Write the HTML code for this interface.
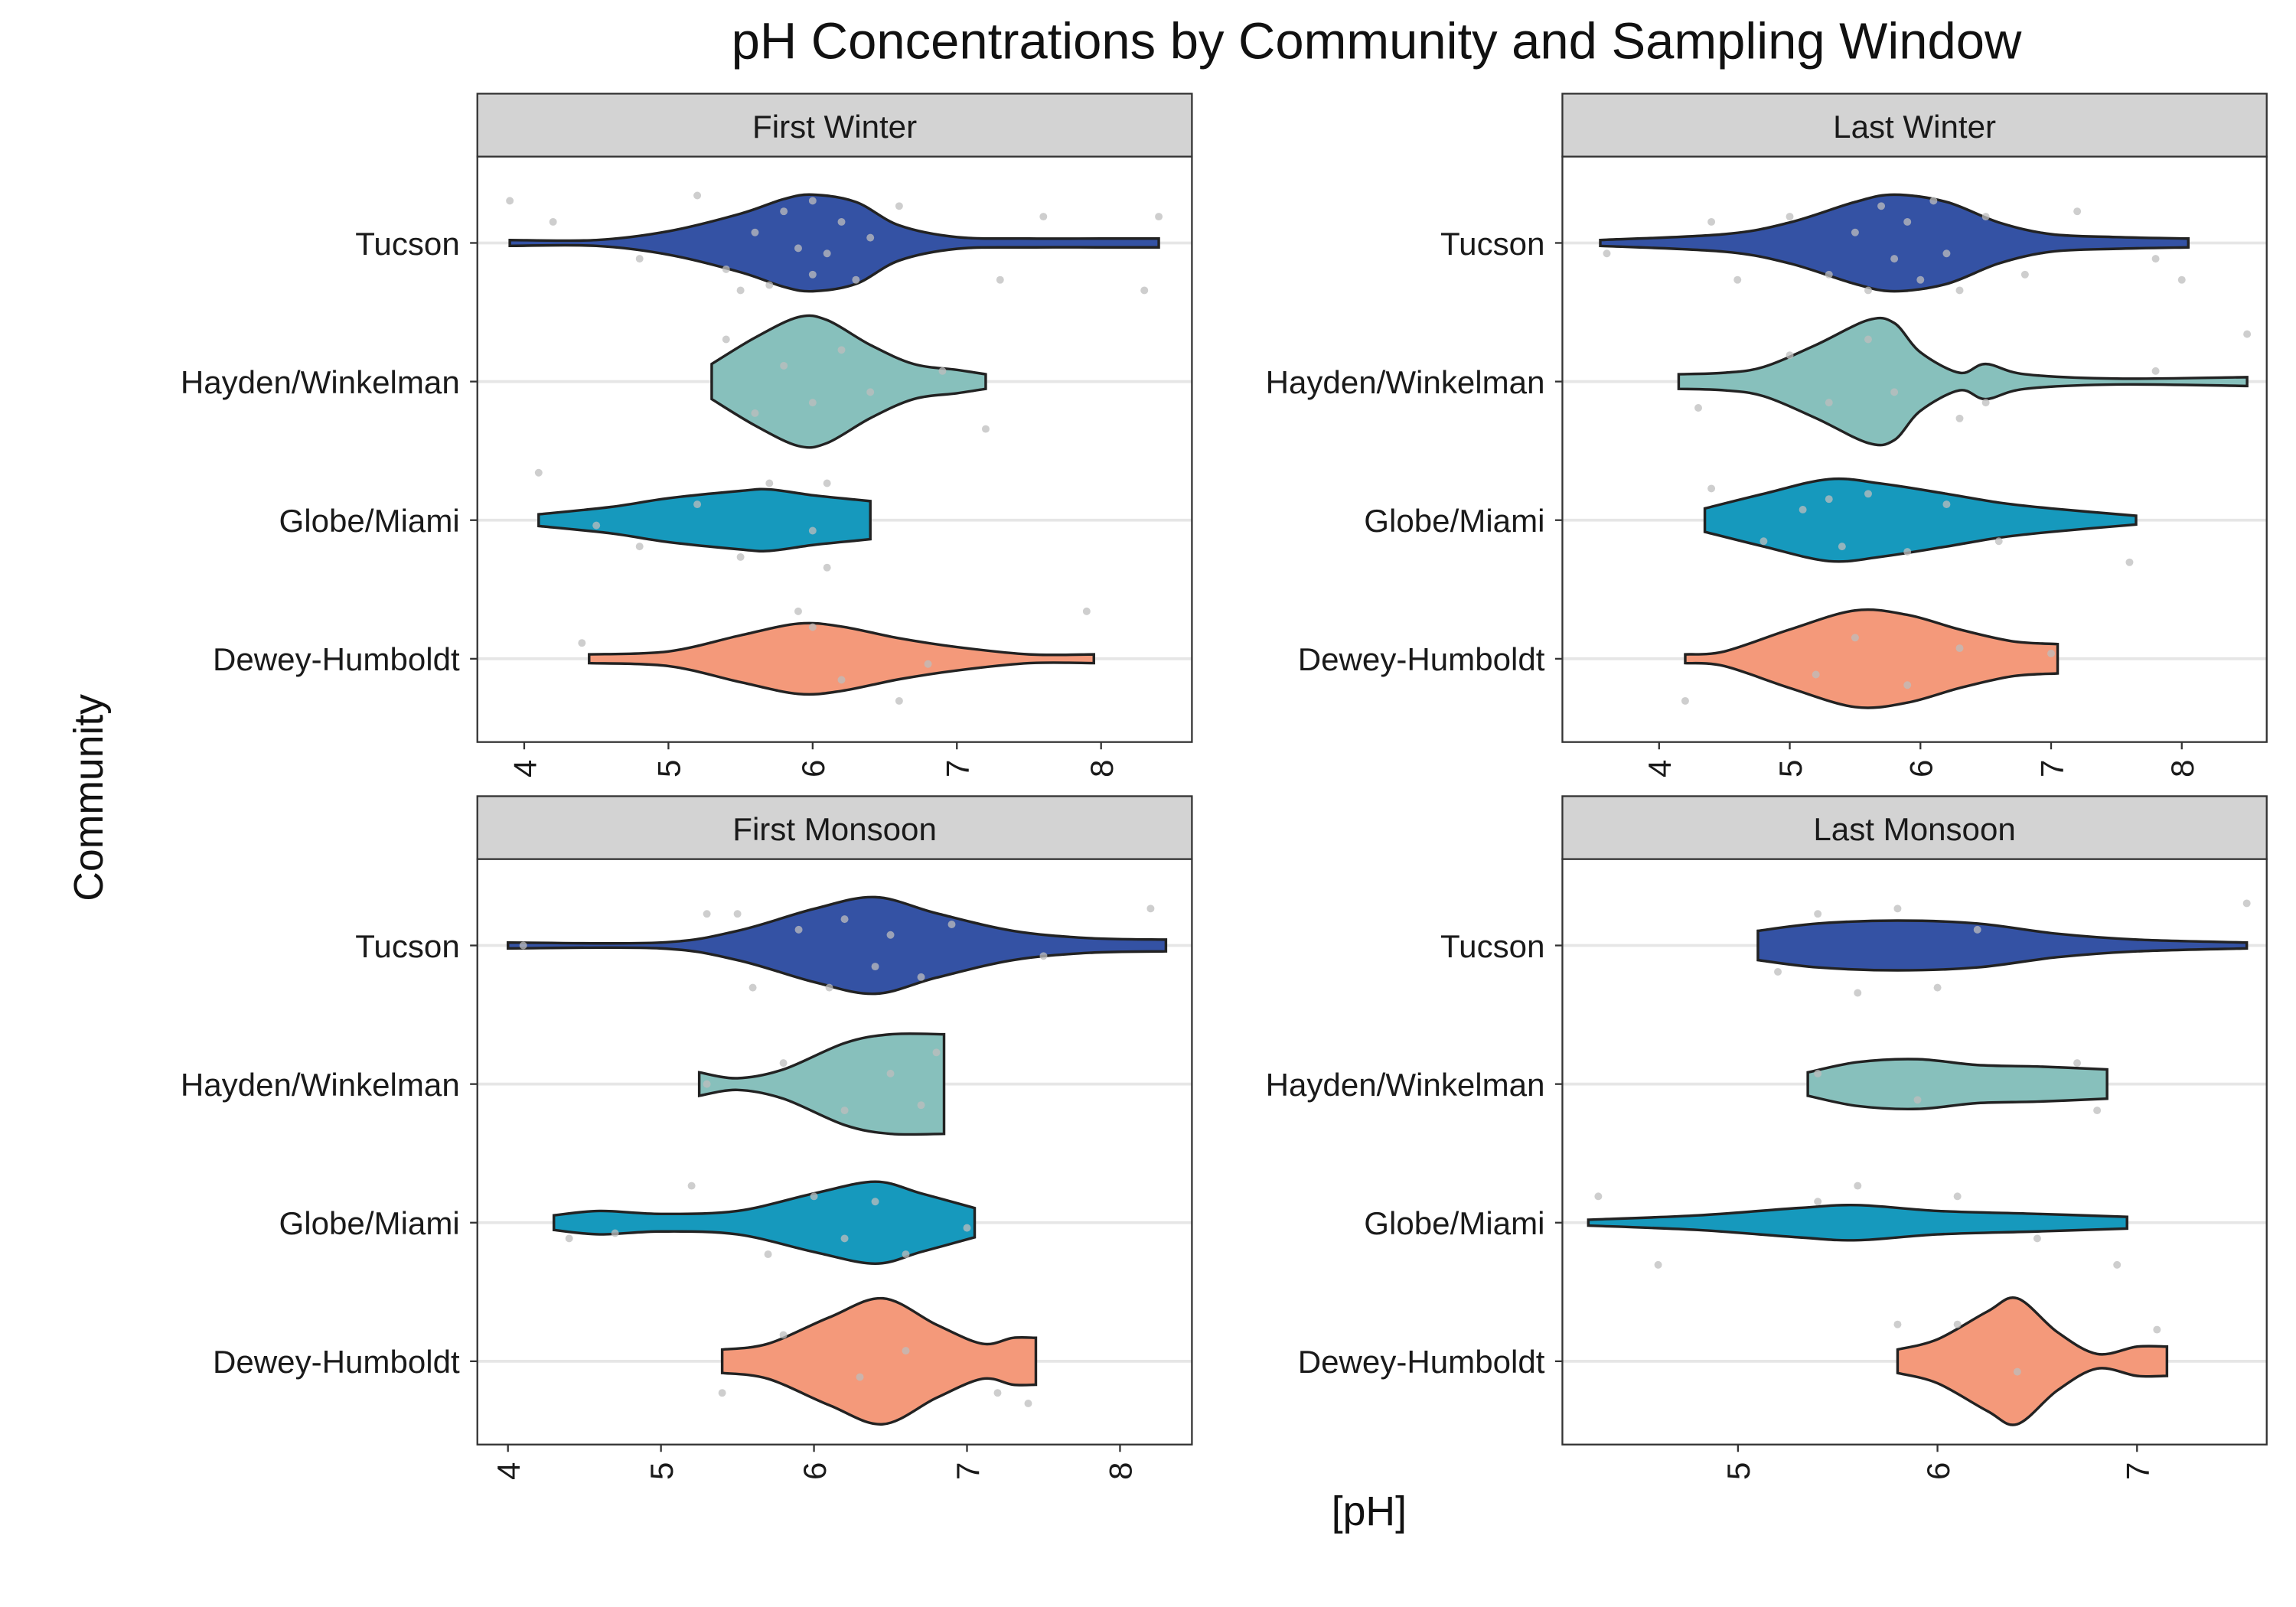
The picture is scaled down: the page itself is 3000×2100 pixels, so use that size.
<!DOCTYPE html>
<html><head><meta charset="utf-8"><style>
html,body{margin:0;padding:0;background:#fff;}
svg{display:block;font-family:"Liberation Sans",sans-serif;}
</style></head><body>
<svg id="chart" width="3000" height="2100" viewBox="0 0 1568 1098" preserveAspectRatio="none" xmlns="http://www.w3.org/2000/svg">
<rect width="1568" height="1098" fill="#fff"/>
<text x="940" y="40" text-anchor="middle" font-size="35" fill="#111">pH Concentrations by Community and Sampling Window</text>
<text transform="translate(70,545) rotate(-90)" text-anchor="middle" font-size="28" fill="#111">Community</text>
<text x="935" y="1042" text-anchor="middle" font-size="28" fill="#111">[pH]</text>
<g id="panels"></g>
</svg>
<script>
const panelTitles = ["First Winter","Last Winter","First Monsoon","Last Monsoon"];
const communities = ["Tucson","Hayden/Winkelman","Globe/Miami","Dewey-Humboldt"];
const colors = ["#3452a4","#87c0bc","#1699bd","#f4997a"];
const xTicks = [[4,5,6,7,8],[4,5,6,7,8],[4,5,6,7,8],[5,6,7]];
const xDomains = [[3.675,8.63],[3.26,8.65],[3.8,8.47],[4.12,7.65]];
// violin profiles: [pH, half-width in px-units]
const fwTucson=[[3.9,2],[4.5,2],[5.0,8],[5.5,20],[5.8,30],[6.0,33],[6.3,28],[6.6,12],[7.0,4],[7.5,3],[8.0,3],[8.4,3]];
const fwHayden=[[5.3,12],[5.6,30],[5.9,44],[6.1,42],[6.4,25],[6.7,12],[7.0,8],[7.2,5]];
const fwGlobe=[[4.1,4],[4.6,9],[5.0,15],[5.5,20],[5.7,21],[6.0,17],[6.3,14],[6.4,13]];
const fwDewey=[[4.45,3],[5.0,5],[5.5,16],[5.9,24],[6.2,22],[6.6,14],[7.0,8],[7.5,3],[7.95,3]];
const lwTucson=[[3.55,2],[4.5,6],[5.0,14],[5.5,28],[5.8,33],[6.2,28],[6.6,14],[7.0,6],[7.5,4],[8.05,3]];
const lwHayden=[[4.15,5],[4.5,6],[4.8,10],[5.2,25],[5.6,42],[5.8,40],[6.0,20],[6.3,6],[6.5,12],[6.8,5],[7.5,2],[8.5,3]];
const lwGlobe=[[4.35,8],[4.8,18],[5.3,28],[5.7,25],[6.2,18],[6.6,12],[7.0,8],[7.65,3]];
const lwDewey=[[4.2,3],[4.5,5],[5.0,20],[5.5,33],[5.9,30],[6.3,20],[6.7,12],[7.05,10]];
const fmTucson=[[4.0,2],[5.0,2],[5.5,10],[6.0,25],[6.4,33],[6.8,22],[7.3,10],[7.8,5],[8.3,4]];
const fmHayden=[[5.25,8],[5.5,4],[5.8,10],[6.2,28],[6.5,34],[6.85,34]];
const fmGlobe=[[4.3,5],[4.6,8],[5.0,6],[5.5,8],[6.0,20],[6.4,28],[6.7,20],[7.05,10]];
const fmDewey=[[5.4,8],[5.7,12],[6.1,30],[6.45,43],[6.8,25],[7.1,12],[7.3,16],[7.45,16]];
const lmTucson=[[5.1,10],[5.4,15],[5.8,17],[6.2,15],[6.6,8],[7.0,4],[7.55,2]];
const lmHayden=[[5.35,8],[5.6,15],[5.9,17],[6.2,13],[6.5,12],[6.85,10]];
const lmGlobe=[[4.25,2],[4.8,5],[5.3,10],[5.6,12],[6.0,8],[6.5,6],[6.95,4]];
const lmDewey=[[5.8,8],[6.0,15],[6.25,34],[6.4,43],[6.6,20],[6.8,5],[7.0,10],[7.15,10]];
const violins=[[fwTucson,fwHayden,fwGlobe,fwDewey],[lwTucson,lwHayden,lwGlobe,lwDewey],[fmTucson,fmHayden,fmGlobe,fmDewey],[lmTucson,lmHayden,lmGlobe,lmDewey]];
// jittered observations: [pH, vertical jitter -1..1]
const ptsFW=[[[4.2,-0.4],[4.8,0.3],[5.2,-0.9],[5.4,0.5],[5.6,-0.2],[5.7,0.8],[5.8,-0.6],[5.9,0.1],[6.0,-0.8],[6.0,0.6],[6.1,0.2],[6.2,-0.4],[6.3,0.7],[6.4,-0.1],[5.5,0.9],[6.6,-0.7],[7.3,0.7],[7.6,-0.5],[8.3,0.9],[8.4,-0.5],[3.9,-0.8]],
 [[5.4,-0.8],[5.6,0.6],[5.8,-0.3],[6.0,0.4],[6.2,-0.6],[6.4,0.2],[7.2,0.9],[6.9,-0.2]],
 [[4.1,-0.9],[4.5,0.1],[4.8,0.5],[5.2,-0.3],[5.5,0.7],[5.7,-0.7],[6.0,0.2],[6.1,-0.7],[6.1,0.9]],
 [[4.4,-0.3],[5.9,-0.9],[6.2,0.4],[6.6,0.8],[6.8,0.1],[7.9,-0.9],[6.0,-0.6]]];
const ptsLW=[[[3.6,0.2],[4.6,0.7],[5.0,-0.5],[5.3,0.6],[5.5,-0.2],[5.6,0.9],[5.7,-0.7],[5.8,0.3],[5.9,-0.4],[6.0,0.7],[6.1,-0.8],[6.2,0.2],[6.3,0.9],[6.5,-0.5],[6.8,0.6],[7.2,-0.6],[7.8,0.3],[8.0,0.7],[4.4,-0.4]],
 [[4.3,0.5],[5.0,-0.5],[5.3,0.4],[5.6,-0.8],[5.8,0.2],[6.3,0.7],[7.8,-0.2],[8.5,-0.9],[6.5,0.4]],
 [[4.4,-0.6],[4.8,0.4],[5.1,-0.2],[5.4,0.5],[5.6,-0.5],[5.9,0.6],[6.2,-0.3],[6.6,0.4],[7.6,0.8],[5.3,-0.4]],
 [[4.2,0.8],[5.2,0.3],[5.5,-0.4],[5.9,0.5],[6.3,-0.2],[7.0,-0.1]]];
const ptsFM=[[[4.1,0.0],[5.3,-0.6],[5.6,0.8],[5.9,-0.3],[6.1,0.8],[6.2,-0.5],[6.4,0.4],[6.5,-0.2],[6.7,0.6],[6.9,-0.4],[7.5,0.2],[8.2,-0.7],[5.5,-0.6]],
 [[5.3,0.0],[5.8,-0.4],[6.2,0.5],[6.5,-0.2],[6.7,0.4],[6.8,-0.6]],
 [[4.4,0.3],[4.7,0.2],[5.2,-0.7],[5.7,0.6],[6.0,-0.5],[6.2,0.3],[6.4,-0.4],[6.6,0.6],[7.0,0.1]],
 [[5.4,0.6],[5.8,-0.5],[6.3,0.3],[6.6,-0.2],[7.2,0.6],[7.4,0.8]]];
const ptsLM=[[[5.2,0.5],[5.4,-0.6],[5.6,0.9],[5.8,-0.7],[6.0,0.8],[6.2,-0.3],[7.55,-0.8]],
 [[5.4,-0.2],[5.9,0.3],[6.8,0.5],[6.7,-0.4]],
 [[4.3,-0.5],[4.6,0.8],[5.4,-0.4],[5.6,-0.7],[6.5,0.3],[6.9,0.8],[6.1,-0.5]],
 [[5.8,-0.7],[6.1,-0.7],[6.4,0.2],[7.1,-0.6]]];
const points=[ptsFW,ptsLW,ptsFM,ptsLM];
const panelBoxes=[[326,64],[1067,64],[326,544],[1067,544]];
const PW_L=[488,481,488,481];
const NS="http://www.w3.org/2000/svg";
const root=document.getElementById('panels');
function mk(tag,attrs,parent){const e=document.createElementNS(NS,tag);for(const k in attrs)e.setAttribute(k,attrs[k]);(parent||root).appendChild(e);return e;}
function smoothPath(pts){let d="M"+pts[0][0]+","+pts[0][1];for(let i=0;i<pts.length-1;i++){const p0=pts[Math.max(0,i-1)],p1=pts[i],p2=pts[i+1],p3=pts[Math.min(pts.length-1,i+2)];const c1=[p1[0]+(p2[0]-p0[0])/6,p1[1]+(p2[1]-p0[1])/6],c2=[p2[0]-(p3[0]-p1[0])/6,p2[1]-(p3[1]-p1[1])/6];d+=" C"+c1[0]+","+c1[1]+" "+c2[0]+","+c2[1]+" "+p2[0]+","+p2[1];}return d;}
for(let p=0;p<4;p++){
  const [px,py]=panelBoxes[p];const pw=PW_L[p];const stripH=43;const top=py+stripH;const ph=400;
  const dom=xDomains[p];const xs=v=>px+(v-dom[0])/(dom[1]-dom[0])*pw;
  const rowY=i=>top+59+i*94.7;
  const g=mk('g',{});
  
  
  const strip=mk('rect',{x:px,y:py,width:pw,height:stripH,fill:'#d3d3d3',stroke:'#333','stroke-width':1.2},g);
  
  const st=mk('text',{x:px+pw/2,y:py+30,'text-anchor':'middle','font-size':22,fill:'#1a1a1a'},g);st.textContent=panelTitles[p];
  
  mk('rect',{x:px,y:top,width:pw,height:ph,fill:'#fff'},g);
  for(let i=0;i<4;i++){const y=rowY(i);
    const gl=mk('line',{x1:px,x2:px+pw,y1:y,y2:y,stroke:'#e6e6e6','stroke-width':2},g);
    
    mk('line',{x1:px-5,x2:px,y1:y,y2:y,stroke:'#333','stroke-width':1.2},g);
    const lb=mk('text',{x:px-12,y:y+8,'text-anchor':'end','font-size':22,fill:'#1a1a1a'},g);lb.textContent=communities[i];
    }
  for(let i=0;i<4;i++){const prof=violins[p][i];const y=rowY(i);
    const up=prof.map(a=>[xs(a[0]),y-a[1]]);const dn=prof.map(a=>[xs(a[0]),y+a[1]]).reverse();
    let d=smoothPath(up)+" L"+dn[0][0]+","+dn[0][1]+smoothPath(dn).replace(/^M[^ ]+/,"")+" Z";
    const v=mk('path',{d:d,fill:colors[i],stroke:'#222','stroke-width':1.8},g);
    
    for(const pt of points[p][i]){const c=mk('circle',{cx:xs(pt[0]),cy:y+pt[1]*36,r:2.6,fill:'#bdbdbd','fill-opacity':0.75},g);
      }}
  const fr=mk('rect',{x:px,y:top,width:pw,height:ph,fill:'none',stroke:'#333','stroke-width':1.2},g);
  
  for(const t of xTicks[p]){const x=xs(t);
    mk('line',{x1:x,x2:x,y1:top+ph,y2:top+ph+5,stroke:'#333','stroke-width':1.2},g);
    const tl=mk('text',{transform:`translate(${x+8},${top+ph+12}) rotate(-90)`,'text-anchor':'end','font-size':22,fill:'#1a1a1a'},g);tl.textContent=t;
    }
}
</script>
</body></html>
